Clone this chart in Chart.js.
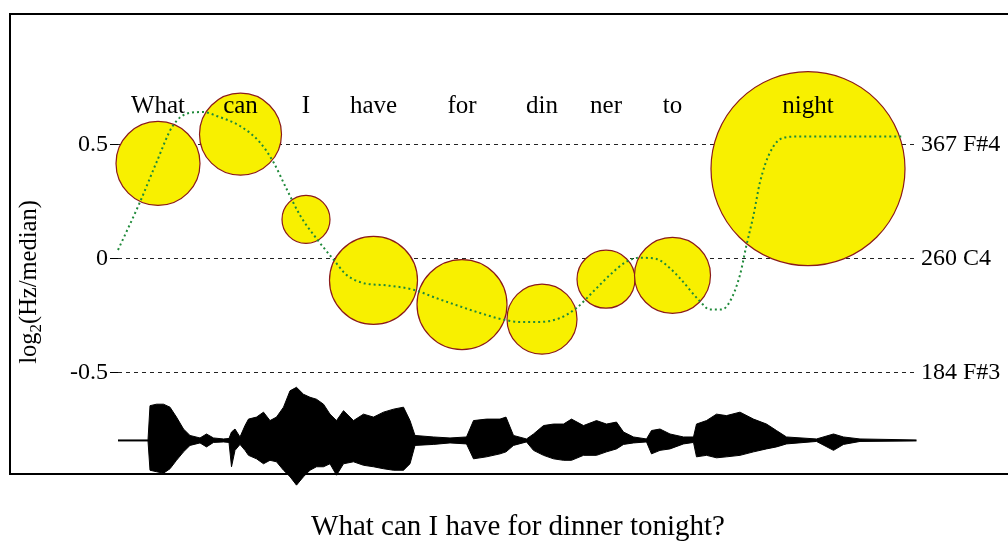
<!DOCTYPE html>
<html>
<head>
<meta charset="utf-8">
<script src="https://cdn.jsdelivr.net/npm/chart.js@4.4.1/dist/chart.umd.min.js"></script>
<style>
  html, body { margin: 0; padding: 0; background: #fff; }
  #wrap { width: 1008px; height: 542px; }
</style>
</head>
<body>
<div id="wrap"><canvas id="pitchChart"></canvas></div>
<script>
// syllables: time (s), mean pitch log2(Hz/median), bubble size
const syllables = ['What', 'can', 'I', 'have', 'for', 'din', 'ner', 'to', 'night'];
const sylTime  = [0.080, 0.245, 0.376, 0.511, 0.688, 0.848, 0.976, 1.109, 1.380];
const sylPitch = [0.417, 0.545, 0.172, -0.095, -0.201, -0.265, -0.090, -0.073, 0.394];
const sylSize  = [42, 41, 24, 44, 45, 35, 29, 38, 97];

const yTicks      = [-0.5, 0, 0.5];
const yTickLabels = ['-0.5', '0', '0.5'];
const noteLabels  = ['184 F#3', '260 C4', '367 F#4'];

// pitch contour
const contourTime  = [0.000, 0.044, 0.077, 0.110, 0.144, 0.171, 0.197, 0.244, 0.284, 0.311, 0.337, 0.364, 0.397, 0.431,
                      0.457, 0.491, 0.537, 0.591, 0.637, 0.684, 0.724, 0.771, 0.804, 0.844, 0.884, 0.917, 0.951, 0.984,
                      1.017, 1.044, 1.077, 1.104, 1.124, 1.164, 1.184, 1.207, 1.224, 1.244, 1.257, 1.271, 1.284, 1.304,
                      1.331, 1.364, 1.571];
const contourPitch = [0.038, 0.248, 0.422, 0.583, 0.639, 0.642, 0.625, 0.581, 0.509, 0.422, 0.306, 0.190, 0.088, -0.004,
                      -0.071, -0.107, -0.117, -0.136, -0.173, -0.209, -0.238, -0.267, -0.277, -0.277, -0.260, -0.216, -0.143, -0.071,
                      -0.013, 0.004, -0.001, -0.042, -0.086, -0.187, -0.223, -0.223, -0.187, -0.071, 0.060, 0.190, 0.335, 0.465,
                      0.530, 0.535, 0.535];

// waveform envelope (relative amplitude above / below zero)
const waveTime = [0.000, 0.060, 0.064, 0.077, 0.091, 0.104, 0.117, 0.131, 0.144, 0.164, 0.177, 0.191, 0.211, 0.222,
                  0.227, 0.234, 0.244, 0.254, 0.261, 0.277, 0.291, 0.304, 0.317, 0.331, 0.344, 0.357, 0.371, 0.384,
                  0.397, 0.411, 0.424, 0.437, 0.451, 0.471, 0.491, 0.511, 0.531, 0.551, 0.571, 0.584, 0.594, 0.631,
                  0.664, 0.697, 0.711, 0.737, 0.764, 0.776, 0.791, 0.817, 0.831, 0.851, 0.871, 0.891, 0.907, 0.931,
                  0.957, 0.977, 0.997, 1.011, 1.031, 1.057, 1.067, 1.084, 1.104, 1.131, 1.151, 1.157, 1.177, 1.197,
                  1.217, 1.244, 1.271, 1.297, 1.317, 1.337, 1.397, 1.431, 1.451, 1.484, 1.597];
const waveUp   = [0.01, 0.01, 0.70, 0.73, 0.73, 0.67, 0.47, 0.23, 0.10, 0.05, 0.13, 0.05, 0.03, 0.04,
                  0.17, 0.23, 0.07, 0.30, 0.43, 0.47, 0.57, 0.40, 0.47, 0.67, 1.00, 1.07, 0.93, 0.87,
                  0.83, 0.73, 0.53, 0.40, 0.60, 0.40, 0.53, 0.47, 0.57, 0.63, 0.67, 0.40, 0.10, 0.07,
                  0.05, 0.07, 0.40, 0.43, 0.43, 0.47, 0.10, 0.03, 0.13, 0.30, 0.33, 0.33, 0.43, 0.30,
                  0.40, 0.33, 0.37, 0.17, 0.07, 0.03, 0.20, 0.23, 0.13, 0.07, 0.07, 0.33, 0.40, 0.53,
                  0.50, 0.57, 0.43, 0.33, 0.20, 0.07, 0.03, 0.13, 0.07, 0.03, 0.01];
const waveDown = [0.01, 0.01, 0.60, 0.63, 0.66, 0.57, 0.40, 0.23, 0.10, 0.05, 0.13, 0.04, 0.03, 0.04,
                  0.53, 0.20, 0.08, 0.20, 0.30, 0.37, 0.47, 0.40, 0.43, 0.60, 0.73, 0.90, 0.73, 0.60,
                  0.53, 0.53, 0.47, 0.70, 0.47, 0.43, 0.50, 0.53, 0.57, 0.60, 0.60, 0.47, 0.10, 0.08,
                  0.05, 0.07, 0.37, 0.33, 0.27, 0.23, 0.10, 0.03, 0.20, 0.30, 0.37, 0.40, 0.40, 0.30,
                  0.30, 0.23, 0.17, 0.08, 0.05, 0.03, 0.27, 0.20, 0.17, 0.07, 0.04, 0.33, 0.30, 0.35,
                  0.33, 0.30, 0.23, 0.17, 0.13, 0.07, 0.02, 0.20, 0.08, 0.02, 0.01];

const WAVE_ZERO = -0.796;   // where the waveform sits on the pitch axis
const WAVE_GAIN = 0.2174;   // axis units per unit of amplitude
const LABEL_LEVEL = 0.64;   // baseline of syllable text

const SERIF = '"Liberation Serif", "Times New Roman", Times, serif';

const frame = {
  id: 'frame',
  beforeDatasetsDraw(chart) {
    const ctx = chart.ctx;
    ctx.save();
    ctx.strokeStyle = '#000';
    ctx.lineWidth = 2;
    ctx.strokeRect(10, 14, 1010, 460);
    ctx.restore();
  }
};

const syllableText = {
  id: 'syllableText',
  afterDatasetsDraw(chart) {
    const {ctx, scales: {x, y}} = chart;
    ctx.save();
    ctx.font = '25px ' + SERIF;
    ctx.fillStyle = '#000';
    ctx.textAlign = 'center';
    ctx.textBaseline = 'alphabetic';
    syllables.forEach((s, i) => {
      ctx.fillText(s, x.getPixelForValue(sylTime[i]), y.getPixelForValue(LABEL_LEVEL));
    });
    ctx.restore();
  }
};

// y title with subscript 2
const yTitle = {
  id: 'yTitle',
  afterDraw(chart) {
    const ctx = chart.ctx;
    const big = '24.5px ' + SERIF, small = '17px ' + SERIF;
    ctx.save();
    ctx.fillStyle = '#000';
    ctx.textBaseline = 'alphabetic';
    ctx.translate(36, 282);
    ctx.rotate(-Math.PI / 2);
    ctx.font = big;
    const w1 = ctx.measureText('log').width;
    const w3 = ctx.measureText('(Hz/median)').width;
    ctx.font = small;
    const w2 = ctx.measureText('2').width;
    let px = -(w1 + w2 + w3) / 2;
    ctx.font = big;
    ctx.fillText('log', px, 0);
    px += w1;
    ctx.font = small;
    ctx.fillText('2', px, 5);
    px += w2;
    ctx.font = big;
    ctx.fillText('(Hz/median)', px, 0);
    ctx.restore();
  }
};

const ctx = document.getElementById('pitchChart');

const pitchChart = new Chart(ctx, {
  type: 'bubble',
  data: {
    datasets: [
      {
        type: 'line',
        label: 'pitch',
        data: contourTime.map((t, i) => ({x: t, y: contourPitch[i]})),
        borderColor: '#1f8a3a',
        borderWidth: 2,
        borderDash: [2, 3],
        pointRadius: 0,
        cubicInterpolationMode: 'monotone',
        fill: false,
        clip: false,
        order: 0
      },
      {
        label: 'syllables',
        data: sylTime.map((t, i) => ({x: t, y: sylPitch[i], r: sylSize[i]})),
        backgroundColor: '#f8f000',
        borderColor: '#8b1a1a',
        borderWidth: 1.2,
        hoverRadius: 0,
        clip: false,
        order: 1
      },
      {
        type: 'line',
        label: 'wave+',
        data: waveTime.map((t, i) => ({x: t, y: WAVE_ZERO + waveUp[i] * WAVE_GAIN})),
        borderColor: '#000',
        borderWidth: 1,
        backgroundColor: '#000',
        pointRadius: 0,
        tension: 0,
        fill: '+1',
        clip: false,
        order: 2
      },
      {
        type: 'line',
        label: 'wave-',
        data: waveTime.map((t, i) => ({x: t, y: WAVE_ZERO - waveDown[i] * WAVE_GAIN})),
        borderColor: '#000',
        borderWidth: 1,
        pointRadius: 0,
        tension: 0,
        fill: false,
        clip: false,
        order: 3
      }
    ]
  },
  options: {
    responsive: true,
    maintainAspectRatio: false,
    animation: false,
    devicePixelRatio: 1,
    layout: { autoPadding: false, padding: { top: 14, left: 0, right: 0, bottom: 0 } },
    plugins: {
      legend: { display: false },
      tooltip: { enabled: false }
    },
    scales: {
      x: {
        type: 'linear',
        min: 0,
        max: 1.6,
        grid: { display: false },
        border: { display: false },
        ticks: { display: false },
        title: {
          display: true,
          text: 'What can I have for dinner tonight?',
          color: '#000',
          font: { family: SERIF, size: 29, lineHeight: 1 },
          padding: { top: 0, bottom: 0 }
        },
        afterFit(scale) { scale.height = 52; }
      },
      y: {
        type: 'linear',
        position: 'left',
        min: -1.013,
        max: 1.0565,
        afterBuildTicks(scale) { scale.ticks = yTicks.map(v => ({value: v})); },
        ticks: {
          color: '#000',
          padding: 2,
          font: { family: SERIF, size: 24 },
          callback: (v, i) => yTickLabels[i]
        },
        grid: {
          color: '#222',
          lineWidth: 1,
          drawTicks: true,
          tickLength: 8,
          tickColor: '#000',
          tickBorderDash: []
        },
        border: { display: false, dash: [4, 4] },
        afterFit(scale) { scale.width = 118; }
      },
      y2: {
        type: 'linear',
        position: 'right',
        min: -1.013,
        max: 1.0565,
        afterBuildTicks(scale) { scale.ticks = yTicks.map(v => ({value: v})); },
        ticks: {
          color: '#000',
          padding: 3,
          font: { family: SERIF, size: 24 },
          callback: (v, i) => noteLabels[i]
        },
        grid: { display: false, drawTicks: false },
        border: { display: false },
        afterFit(scale) { scale.width = 90; }
      }
    }
  },
  plugins: [frame, syllableText, yTitle]
});
</script>
</body>
</html>
